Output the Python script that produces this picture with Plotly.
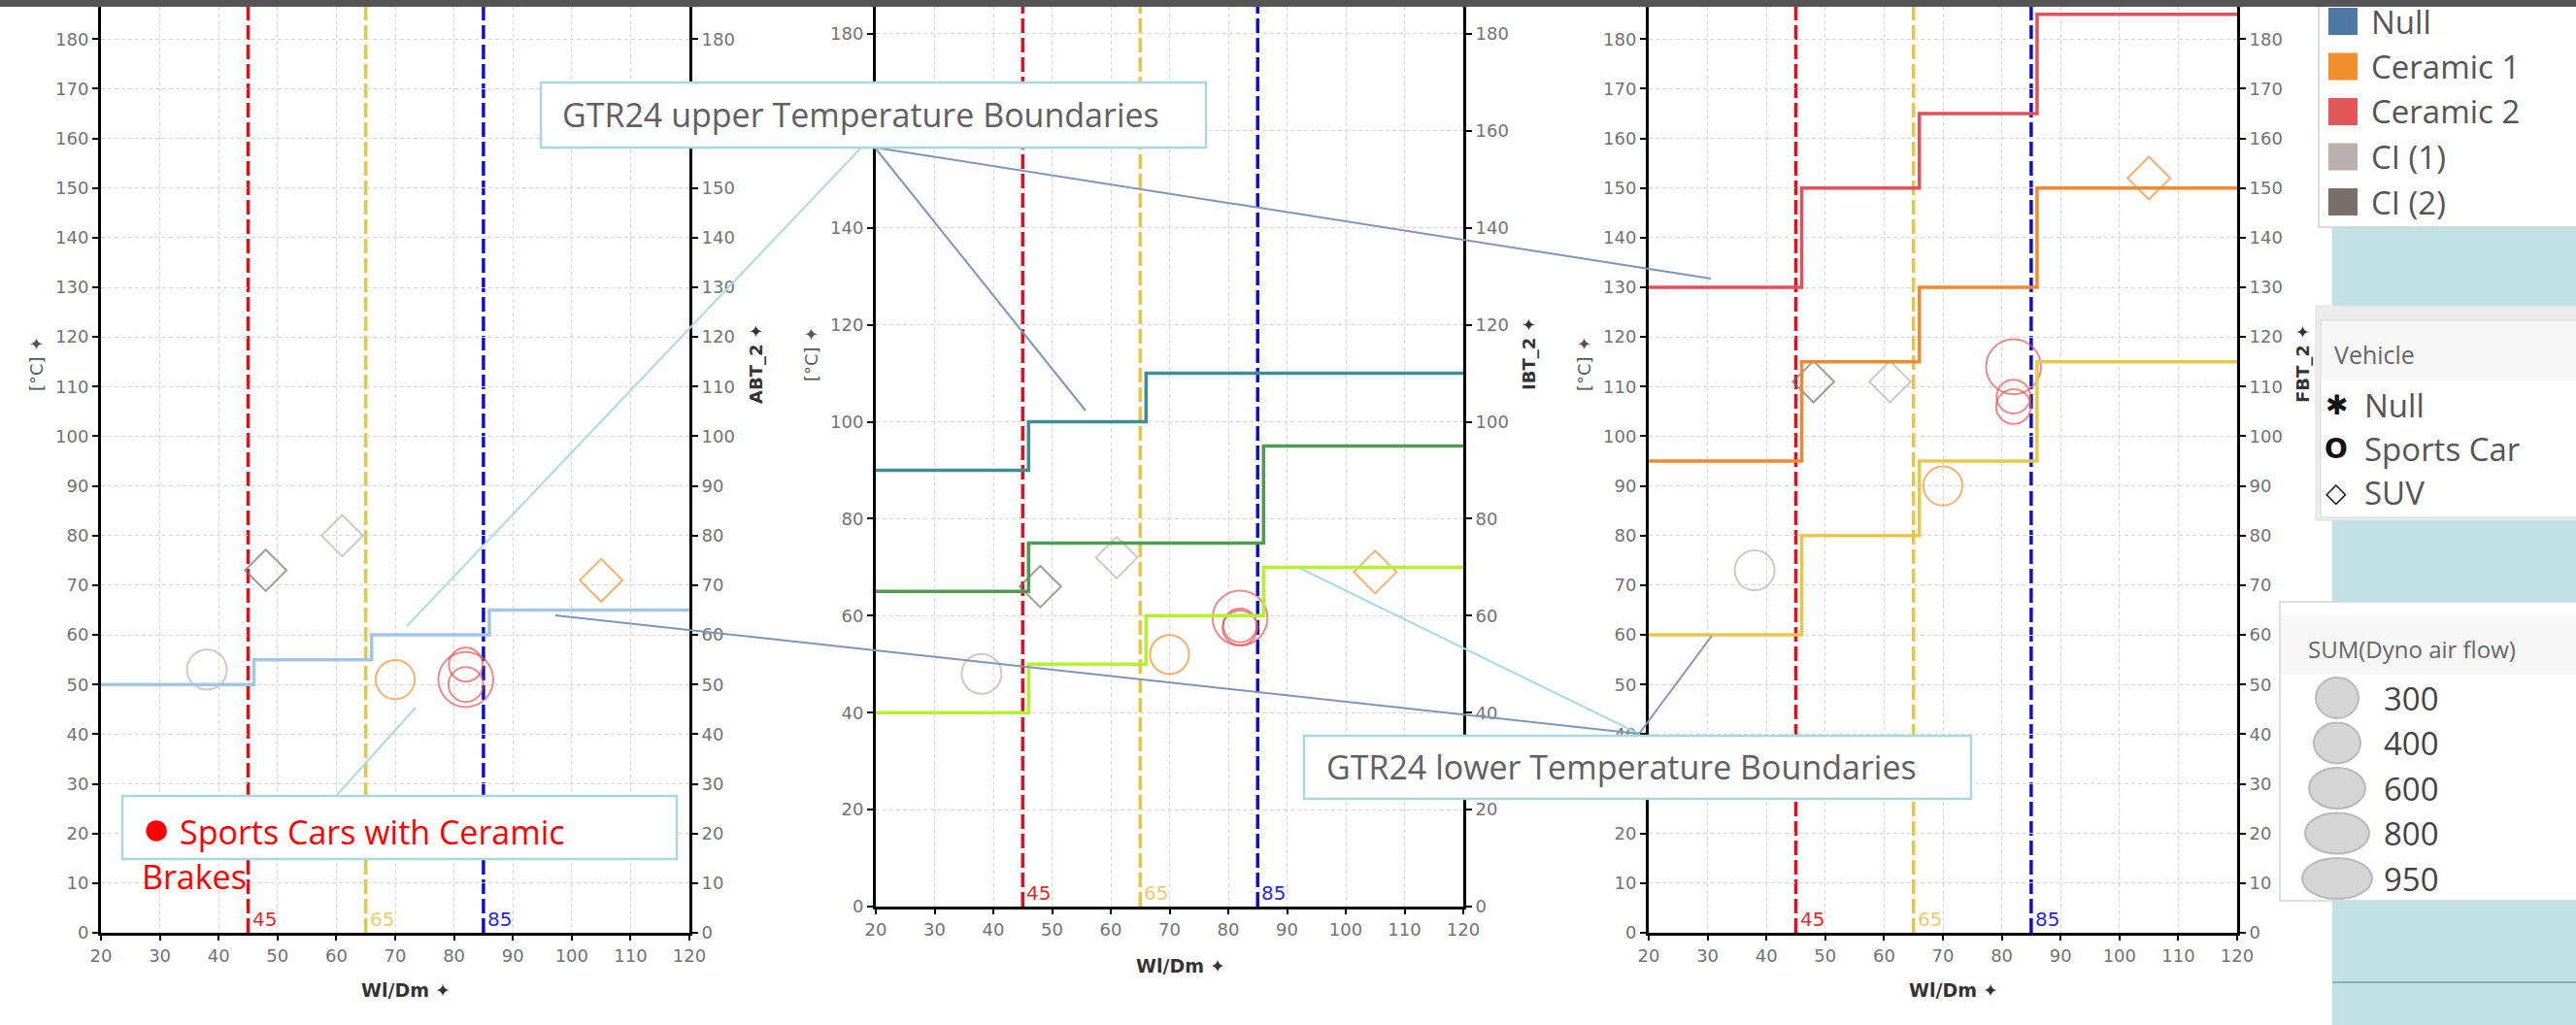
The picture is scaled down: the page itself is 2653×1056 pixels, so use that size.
import plotly.graph_objects as go

W, H = 2653, 1056

# ---------------- data ----------------
wl_dm = [38, 48, 61, 70, 82, 82, 82, 105]
brake = ["CI (1)", "CI (2)", "CI (1)", "Ceramic 1", "Ceramic 2", "Ceramic 2", "Ceramic 2", "Ceramic 1"]
vehicle = ["Sports Car", "SUV", "SUV", "Sports Car", "Sports Car", "Sports Car", "Sports Car", "SUV"]
air_flow = [500, 320, 320, 480, 360, 380, 950, 340]
abt = [53, 73, 80, 51, 54, 50, 51, 71]
ibt = [48, 66, 72, 52, 58, 57.5, 59.5, 69]
fbt = [73, 111, 111, 90, 108, 106, 114, 152]

step_x = [20, 46, 66, 86, 120]
abt_bound = [50, 55, 60, 65, 65]
ibt_upper = [90, 100, 110, 110, 110]
ibt_mid = [65, 75, 75, 95, 95]
ibt_lower = [40, 50, 60, 70, 70]
fbt_c2 = [130, 150, 165, 185, 185]
fbt_c1 = [95, 115, 130, 150, 150]
fbt_ci = [60, 80, 95, 115, 115]

ref_lines = [45, 65, 85]
ref_colors = ["#e0101c", "#e6c54a", "#1010cc"]
ref_label_colors = ["#e02a30", "#e9cd72", "#2828d0"]

brake_types = ["Null", "Ceramic 1", "Ceramic 2", "CI (1)", "CI (2)"]
brake_colors = ["#4e79a7", "#f28e2b", "#e15759", "#bab0ac", "#79706e"]
vehicle_types = ["Null", "Sports Car", "SUV"]
vehicle_glyphs = ["✱", "<b>O</b>", "<b>◇</b>"]
size_legend = [300, 400, 600, 800, 950]

x_ticks = list(range(20, 121, 10))
SIZEREF = 950 / 40 ** 2
symbol_of = {"Sports Car": "circle-open", "SUV": "diamond-open", "Null": "asterisk-open"}


def px(x):
    return x / W


def py(y):
    return 1 - y / H


panels = [
    dict(xpx=(104, 710), ypx=(7, 961), ytop=186.5, dl=10, dr=10, temps=abt,
         steps=[(abt_bound, "#a3c6e3")], rtitle="ABT_2", ltx=37, rtx=778, ty=375, xty=1020),
    dict(xpx=(902, 1507), ypx=(7, 934), ytop=185.6, dl=20, dr=20, temps=ibt,
         steps=[(ibt_upper, "#3f8e93"), (ibt_mid, "#4f9b52"), (ibt_lower, "#b4f22e")],
         rtitle="IBT_2", ltx=835, rtx=1574, ty=365, xty=995),
    dict(xpx=(1698, 2304), ypx=(7, 961), ytop=186.5, dl=10, dr=10, temps=fbt,
         steps=[(fbt_c2, "#e2515b"), (fbt_c1, "#f08a32"), (fbt_ci, "#e8c84c")],
         rtitle="FBT_2", ltx=1631, rtx=2371, ty=375, xty=1020),
]

tick_font = dict(family="DejaVu Sans", size=18, color="#727272")
fig = go.Figure()
layout = {}
shapes = []
annotations = []

for i, p in enumerate(panels):
    xs = "" if i == 0 else str(i + 1)
    yls = "" if i == 0 else str(2 * i + 1)
    yrs = str(2 * i + 2)
    xref, yl, yr = "x" + xs, "y" + yls, "y" + yrs
    x0, x1 = p["xpx"]
    y0, y1 = p["ypx"]
    ltick = [v for v in range(0, 181, p["dl"])]
    rtick = [v for v in range(0, 181, p["dr"])]

    layout["xaxis" + xs] = dict(
        domain=[px(x0), px(x1)], range=[20, 120], anchor=yl, tickvals=x_ticks, automargin=False,
        showgrid=True, gridcolor="#d6d6d6", griddash="4px,3px", gridwidth=1,
        showline=True, linecolor="black", linewidth=3, ticks="outside", ticklen=5,
        tickwidth=1.5, tickcolor="black", tickfont=tick_font, zeroline=False, fixedrange=True)
    layout["yaxis" + yls] = dict(
        domain=[py(y1), py(y0)], range=[0, p["ytop"]], anchor=xref, tickvals=ltick, automargin=False,
        showgrid=True, gridcolor="#d6d6d6", griddash="4px,3px", gridwidth=1,
        showline=True, linecolor="black", linewidth=3, ticks="outside", ticklen=6,
        tickwidth=1.5, tickcolor="black", tickfont=tick_font, zeroline=False, fixedrange=True)
    layout["yaxis" + yrs] = dict(
        overlaying=yl, side="right", anchor=xref, range=[0, p["ytop"]], tickvals=rtick,
        automargin=False, showgrid=False, showline=True, linecolor="black", linewidth=3,
        ticks="outside", ticklen=6, tickwidth=1.5, tickcolor="black", tickfont=tick_font,
        zeroline=False, fixedrange=True)

    # reference lines
    for v, c, lc in zip(ref_lines, ref_colors, ref_label_colors):
        shapes.append(dict(type="line", xref=xref, yref=yl + " domain", x0=v, x1=v, y0=0, y1=1,
                           line=dict(color=c, width=3.5, dash="15px,5px"), layer="below"))
        annotations.append(dict(x=v, xref=xref, y=0, yref=yl + " domain", text=str(v),
                                showarrow=False, xanchor="left", yanchor="bottom", xshift=2,
                                yshift=0, font=dict(family="DejaVu Sans", size=20, color=lc)))

    # step boundaries on the right (dual) axis
    for vals, col in p["steps"]:
        fig.add_trace(go.Scatter(x=step_x, y=vals, mode="lines", line=dict(color=col, width=3.5, shape="hv"),
                                 xaxis=xref, yaxis=yr, hoverinfo="skip", showlegend=False))

    # markers
    for b, c in zip(brake_types, brake_colors):
        idx = [k for k in range(len(wl_dm)) if brake[k] == b]
        if not idx:
            continue
        fig.add_trace(go.Scatter(
            x=[wl_dm[k] for k in idx], y=[p["temps"][k] for k in idx], mode="markers",
            marker=dict(symbol=[symbol_of[vehicle[k]] for k in idx], size=[air_flow[k] for k in idx],
                        sizemode="area", sizeref=SIZEREF, color=c, line=dict(color=c, width=2)),
            xaxis=xref, yaxis=yl, showlegend=False, name=b))

    # axis titles
    annotations.append(dict(x=px(p["ltx"]), y=py(p["ty"]), xref="paper", yref="paper", text="[°C] ✦",
                            textangle=-90, showarrow=False, xanchor="center", yanchor="middle",
                            font=dict(family="DejaVu Sans", size=18, color="#555555")))
    annotations.append(dict(x=px(p["rtx"]), y=py(p["ty"]), xref="paper", yref="paper",
                            text="<b>" + p["rtitle"] + "</b> ✦", textangle=-90, showarrow=False,
                            xanchor="center", yanchor="middle",
                            font=dict(family="DejaVu Sans", size=18, color="#333333")))
    annotations.append(dict(x=px((x0 + x1) / 2 + 11), y=py(p["xty"]), xref="paper", yref="paper",
                            text="<b>Wl/Dm</b> ✦", showarrow=False, xanchor="center", yanchor="middle",
                            font=dict(family="DejaVu Sans", size=19, color="#333333")))

# ---------------- callouts ----------------
teal_line = "#a9dbe0"
slate_line = "#8095b8"
connectors = [
    ((887, 152), (419, 645), teal_line),
    ((347, 819), (428, 729), teal_line),
    ((1340, 586), (1688, 756), teal_line),
    ((901, 152), (1118, 423), slate_line),
    ((901, 152), (1762, 287), slate_line),
    ((572, 634), (1688, 756), slate_line),
    ((1688, 756), (1763, 655), slate_line),
]
for (ax, ay), (bx, by), col in connectors:
    shapes.append(dict(type="line", xref="paper", yref="paper", x0=px(ax), y0=py(ay), x1=px(bx), y1=py(by),
                       line=dict(color=col, width=2), layer="above"))

boxes = [((557, 85), (1242, 152)), ((1343, 758), (2030, 823)), ((126, 820), (697, 885))]
for (ax, ay), (bx, by) in boxes:
    shapes.append(dict(type="rect", xref="paper", yref="paper", x0=px(ax), y0=py(by), x1=px(bx), y1=py(ay),
                       fillcolor="white", line=dict(color="#a9d8de", width=2.5), layer="above"))

callout_font = dict(family="Open Sans", size=34, color="#606060")
annotations.append(dict(x=px(577), y=py(118), xref="paper", yref="paper",
                        text="GTR24 upper Temperature Boundaries", showarrow=False,
                        xanchor="left", yanchor="middle", font=callout_font))
annotations.append(dict(x=px(1364), y=py(790), xref="paper", yref="paper",
                        text="GTR24 lower Temperature Boundaries", showarrow=False,
                        xanchor="left", yanchor="middle", font=callout_font))
red_font = dict(family="Open Sans", size=34, color="#ff0000")
annotations.append(dict(x=px(144), y=py(851), xref="paper", yref="paper",
                        text="<span style='font-size:50px'>●</span> Sports Cars with Ceramic",
                        showarrow=False, xanchor="left", yanchor="middle", font=red_font))
annotations.append(dict(x=px(144), y=py(903), xref="paper", yref="paper",
                        text="Brakes", showarrow=False, xanchor="left", yanchor="middle", font=red_font))

# ---------------- legend panel ----------------
shapes.append(dict(type="rect", xref="paper", yref="paper", x0=px(2402), x1=1, y0=0, y1=py(7),
                   fillcolor="#c2e1e5", line=dict(width=0), layer="above"))
shapes.append(dict(type="line", xref="paper", yref="paper", x0=px(2402), x1=1, y0=py(1012), y1=py(1012),
                   line=dict(color="#8fb0b4", width=2), layer="above"))

# colour legend
shapes.append(dict(type="rect", xref="paper", yref="paper", x0=px(2388), x1=px(2655), y0=py(234), y1=py(0),
                   fillcolor="white", line=dict(color="#cfcfcf", width=1.5), layer="above"))
leg_font = dict(family="Open Sans", size=33, color="#555555")
for k, (name, col) in enumerate(zip(brake_types, brake_colors)):
    cy = 22 + 46.5 * k
    shapes.append(dict(type="rect", xref="paper", yref="paper", x0=px(2398), x1=px(2428),
                       y0=py(cy + 14), y1=py(cy - 14), fillcolor=col, line=dict(width=0), layer="above"))
    annotations.append(dict(x=px(2440), y=py(cy), xref="paper", yref="paper", text=name, showarrow=False,
                            xanchor="left", yanchor="middle", font=leg_font))

# vehicle legend
shapes.append(dict(type="rect", xref="paper", yref="paper", x0=px(2385), x1=px(2655), y0=py(536), y1=py(315),
                   fillcolor="#ececec", line=dict(color="#dddddd", width=1), layer="above"))
shapes.append(dict(type="rect", xref="paper", yref="paper", x0=px(2390), x1=px(2655), y0=py(533), y1=py(330),
                   fillcolor="white", line=dict(color="#d4d4d4", width=1), layer="above"))
shapes.append(dict(type="rect", xref="paper", yref="paper", x0=px(2391), x1=px(2655), y0=py(392), y1=py(331),
                   fillcolor="#f7f7f7", line=dict(width=0), layer="above"))
annotations.append(dict(x=px(2402), y=py(365), xref="paper", yref="paper", text="Vehicle", showarrow=False,
                        xanchor="left", yanchor="middle",
                        font=dict(family="Open Sans", size=25, color="#666666")))
for k, (name, g) in enumerate(zip(vehicle_types, vehicle_glyphs)):
    cy = 418 + 44.5 * k
    annotations.append(dict(x=px(2406), y=py(cy), xref="paper", yref="paper", text=g, showarrow=False,
                            xanchor="center", yanchor="middle",
                            font=dict(family="DejaVu Sans", size=28, color="#111111")))
    annotations.append(dict(x=px(2433), y=py(cy), xref="paper", yref="paper", text=name, showarrow=False,
                            xanchor="left", yanchor="middle", font=leg_font))

# size legend
shapes.append(dict(type="rect", xref="paper", yref="paper", x0=px(2348), x1=px(2655), y0=py(928), y1=py(620),
                   fillcolor="white", line=dict(color="#d4d4d4", width=1.5), layer="above"))
shapes.append(dict(type="rect", xref="paper", yref="paper", x0=px(2349), x1=px(2655), y0=py(695), y1=py(634),
                   fillcolor="#f7f7f7", line=dict(width=0), layer="above"))
annotations.append(dict(x=px(2375), y=py(668), xref="paper", yref="paper", text="SUM(Dyno air flow)",
                        showarrow=False, xanchor="left", yanchor="middle",
                        font=dict(family="Open Sans", size=24, color="#666666")))
ell_w = [44, 48, 58, 66, 72]
for k, v in enumerate(size_legend):
    cy = 719 + 46.5 * k
    hw = ell_w[k] / 2
    shapes.append(dict(type="circle", xref="paper", yref="paper", x0=px(2407 - hw), x1=px(2407 + hw),
                       y0=py(min(cy + 21, 926)), y1=py(cy - 21), fillcolor="#d5d5d5",
                       line=dict(color="#b9b9b9", width=2), layer="above"))
    annotations.append(dict(x=px(2453), y=py(cy), xref="paper", yref="paper", text=str(v), showarrow=False,
                            xanchor="left", yanchor="middle",
                            font=dict(family="Open Sans", size=33, color="#444444")))

# top dark bar
shapes.append(dict(type="rect", xref="paper", yref="paper", x0=0, x1=1, y0=py(7), y1=1,
                   fillcolor="#555555", line=dict(width=0), layer="above"))

fig.update_layout(
    width=W, height=H, margin=dict(l=0, r=0, t=0, b=0, pad=0, autoexpand=False), autosize=False,
    paper_bgcolor="white", plot_bgcolor="white", showlegend=False,
    shapes=shapes, annotations=annotations, **layout)

fig.write_html("out.html", config={"displayModeBar": False},
               post_script="document.body.style.margin='0px';")
